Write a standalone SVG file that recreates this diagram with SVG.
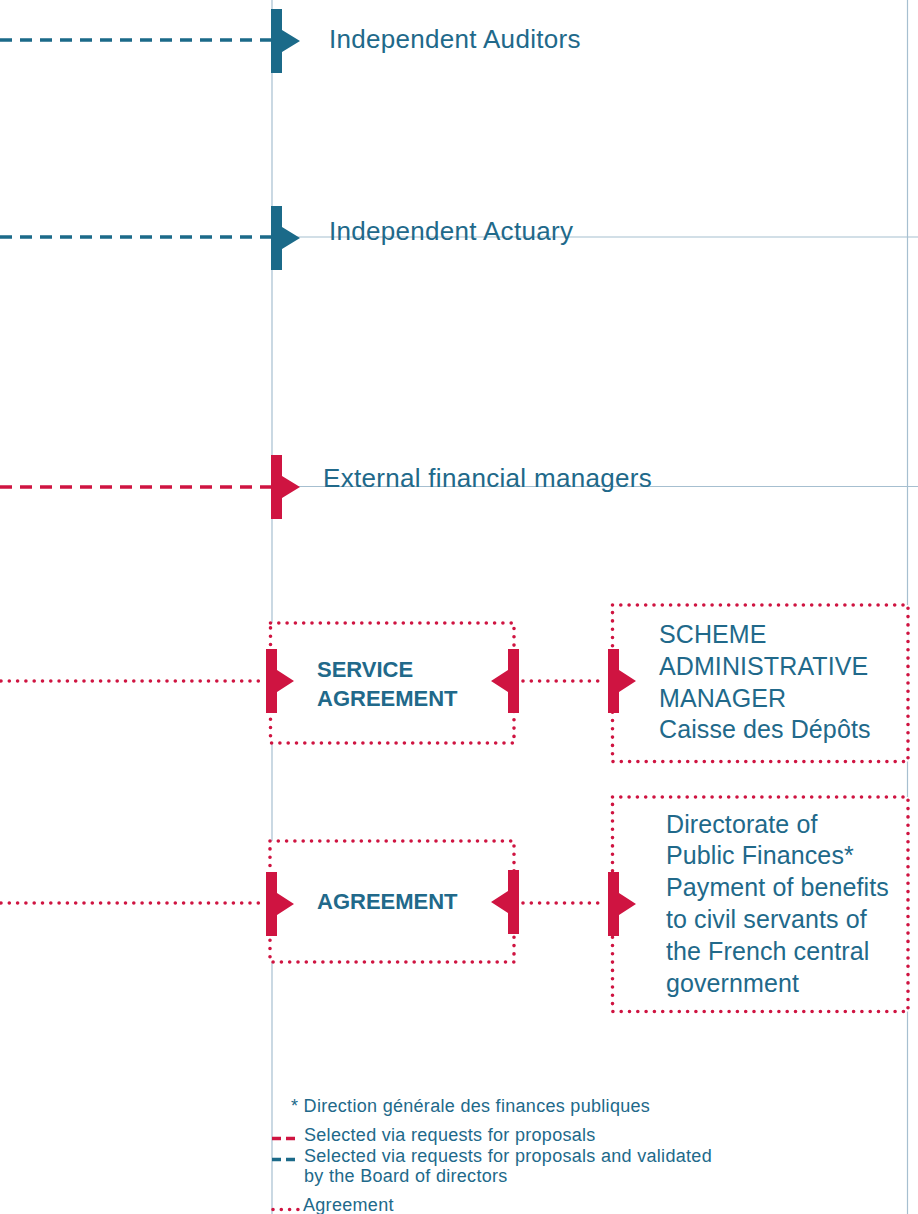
<svg xmlns="http://www.w3.org/2000/svg" xmlns:xlink="http://www.w3.org/1999/xlink" width="918" height="1214" viewBox="0 0 918 1214">
<style>
.grid{stroke:#a6bfd0;stroke-width:1.2;fill:none}
.dashB{stroke:#1b6a89;stroke-width:3.5;stroke-dasharray:12 8;fill:none}
.dashR{stroke:#cf1441;stroke-width:3.5;stroke-dasharray:12 8;fill:none}
.dot{stroke:#cf1441;stroke-width:3.6;stroke-dasharray:0 8.3;stroke-linecap:round;fill:none}
.box{stroke:#cf1441;stroke-width:3.6;stroke-dasharray:0 8.3;stroke-linecap:round;fill:#fff}
.t{font-family:"Liberation Sans",Arial,sans-serif;fill:#21698a}
.big{font-size:26px;letter-spacing:0.3px}
.mid{font-size:25px;letter-spacing:0.1px}
.bold{font-size:22px;font-weight:bold}
.leg{font-size:18px;letter-spacing:0.3px}
.blue{fill:#1b6a89}
.red{fill:#cf1441}
</style>
<defs>
<path id="arrR" d="M0,-32H11V-11L29,0L11,11V32H0Z"/>
<path id="arrRs" d="M0,-32H11V-11L28,0L11,11V32H0Z"/>
<path id="arrL" d="M0,-32H11V32H0V11L-17,0L0,-11Z"/>
</defs>
<g id="grid">
<line class="grid" x1="272" y1="0" x2="272" y2="1214"/>
<line class="grid" x1="907.5" y1="0" x2="907.5" y2="1214"/>
<line class="grid" x1="272" y1="237" x2="918" y2="237"/>
<line class="grid" x1="272" y1="486.5" x2="918" y2="486.5"/>
</g>
<g id="connectors">
<line class="dashB" x1="0" y1="40" x2="271" y2="40"/>
<line class="dashB" x1="0" y1="237" x2="271" y2="237"/>
<line class="dashR" x1="0" y1="487" x2="271" y2="487"/>
<line class="dot" x1="1" y1="681" x2="264" y2="681"/>
<line class="dot" x1="523" y1="681" x2="604" y2="681"/>
<line class="dot" x1="1" y1="903" x2="264" y2="903"/>
<line class="dot" x1="523" y1="903" x2="604" y2="903"/>
</g>
<g id="auditors">
<use xlink:href="#arrR" class="blue" x="271" y="41"/>
<text class="t big" x="329" y="48">Independent Auditors</text>
</g>
<g id="actuary">
<use xlink:href="#arrR" class="blue" x="271" y="238"/>
<text class="t big" x="329" y="240">Independent Actuary</text>
</g>
<g id="external">
<use xlink:href="#arrR" class="red" x="271" y="487"/>
<text class="t big" x="323" y="487">External financial managers</text>
</g>
<g id="service-agreement">
<rect class="box" x="270.5" y="623" width="243.5" height="120"/>
<use xlink:href="#arrRs" class="red" x="266" y="681"/>
<use xlink:href="#arrL" class="red" x="508" y="681"/>
<text class="t bold" x="317" y="677">SERVICE</text>
<text class="t bold" x="317" y="706">AGREEMENT</text>
</g>
<g id="scheme-manager">
<rect class="box" x="612.5" y="605" width="295.5" height="156.5"/>
<use xlink:href="#arrRs" class="red" x="608" y="681"/>
<text class="t mid" x="659" y="643">SCHEME</text>
<text class="t mid" x="659" y="675">ADMINISTRATIVE</text>
<text class="t mid" x="659" y="707">MANAGER</text>
<text class="t mid" x="659" y="738">Caisse des Dépôts</text>
</g>
<g id="agreement">
<rect class="box" x="270" y="841" width="244" height="121"/>
<use xlink:href="#arrRs" class="red" x="266" y="904"/>
<use xlink:href="#arrL" class="red" x="508" y="902"/>
<text class="t bold" x="317" y="909">AGREEMENT</text>
</g>
<g id="dgfip">
<rect class="box" x="612.5" y="797" width="295.5" height="214.5"/>
<use xlink:href="#arrRs" class="red" x="608" y="904"/>
<text class="t mid" x="666" y="833">Directorate of</text>
<text class="t mid" x="666" y="864">Public Finances*</text>
<text class="t mid" x="666" y="896">Payment of benefits</text>
<text class="t mid" x="666" y="928">to civil servants of</text>
<text class="t mid" x="666" y="960">the French central</text>
<text class="t mid" x="666" y="992">government</text>
</g>
<g id="legend">
<text class="t leg" x="291" y="1112">* Direction générale des finances publiques</text>
<line x1="272" y1="1138.5" x2="295" y2="1138.5" stroke="#cf1441" stroke-width="3.5" stroke-dasharray="9 5"/>
<text class="t leg" x="304" y="1141">Selected via requests for proposals</text>
<line x1="272" y1="1159.5" x2="295" y2="1159.5" stroke="#1b6a89" stroke-width="3.5" stroke-dasharray="9 5"/>
<text class="t leg" x="304" y="1162">Selected via requests for proposals and validated</text>
<text class="t leg" x="304" y="1182">by the Board of directors</text>
<line class="dot" x1="273" y1="1209.5" x2="298" y2="1209.5"/>
<text class="t leg" x="303" y="1211">Agreement</text>
</g>
</svg>
